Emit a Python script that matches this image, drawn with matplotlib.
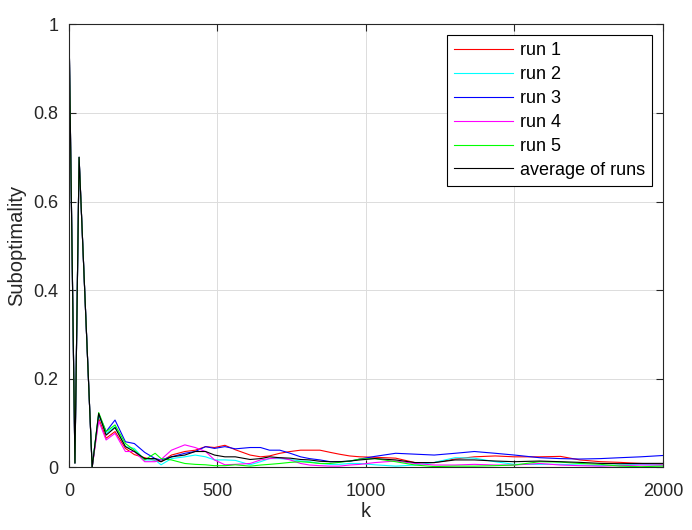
import matplotlib.pyplot as plt
import numpy as np

plt.rcParams['font.family'] = ['Liberation Sans', 'DejaVu Sans']

# iteration index (shared by all runs)
k = [0, 20, 34, 78, 100, 125, 155, 190, 220, 255, 290, 310, 345, 390, 425, 460,
     490, 525, 560, 610, 645, 675, 710, 745, 780, 810, 845, 880, 910, 945, 980,
     1030, 1100, 1165, 1230, 1300, 1365, 1435, 1500, 1585, 1655, 1720, 1790,
     1855, 1925, 2000]

# the first transient is identical for every run
head = [1.0, 0.01, 0.70, 0.0]

run1 = head + [0.111, 0.066, 0.081, 0.043, 0.029, 0.022, 0.016, 0.013, 0.028, 0.036,
               0.039, 0.047, 0.045, 0.050, 0.040, 0.028, 0.024, 0.026, 0.032, 0.036,
               0.039, 0.039, 0.039, 0.034, 0.030, 0.026, 0.024, 0.023, 0.021, 0.011,
               0.011, 0.019, 0.024, 0.026, 0.024, 0.024, 0.025, 0.017, 0.013, 0.0115,
               0.009, 0.007]
run2 = head + [0.118, 0.077, 0.092, 0.047, 0.043, 0.017, 0.017, 0.006, 0.020, 0.024,
               0.028, 0.024, 0.017, 0.017, 0.016, 0.006, 0.013, 0.020, 0.020, 0.018,
               0.0145, 0.013, 0.009, 0.007, 0.007, 0.009, 0.009, 0.006, 0.003, 0.0055,
               0.0115, 0.022, 0.021, 0.013, 0.007, 0.007, 0.007, 0.0055, 0.004, 0.0055,
               0.007, 0.0055]
run3 = head + [0.120, 0.081, 0.107, 0.058, 0.054, 0.034, 0.020, 0.017, 0.024, 0.032,
               0.036, 0.047, 0.043, 0.047, 0.042, 0.045, 0.045, 0.039, 0.039, 0.032,
               0.024, 0.020, 0.017, 0.013, 0.013, 0.014, 0.019, 0.025, 0.032, 0.030,
               0.028, 0.032, 0.036, 0.032, 0.028, 0.022, 0.020, 0.019, 0.020, 0.022,
               0.024, 0.027]
run4 = head + [0.105, 0.062, 0.077, 0.036, 0.036, 0.013, 0.013, 0.018, 0.039, 0.051,
               0.045, 0.036, 0.017, 0.006, 0.007, 0.009, 0.017, 0.020, 0.022, 0.017,
               0.009, 0.0055, 0.004, 0.003, 0.003, 0.0055, 0.007, 0.011, 0.0145, 0.009,
               0.0055, 0.0055, 0.007, 0.0055, 0.0055, 0.009, 0.0055, 0.004, 0.003, 0.004,
               0.0055, 0.0055]
run5 = head + [0.124, 0.081, 0.096, 0.054, 0.039, 0.017, 0.032, 0.020, 0.017, 0.009,
               0.007, 0.006, 0.004, 0.004, 0.006, 0.003, 0.0055, 0.007, 0.009, 0.0115,
               0.013, 0.0115, 0.009, 0.009, 0.0115, 0.0145, 0.019, 0.020, 0.013, 0.0055,
               0.002, 0.003, 0.003, 0.004, 0.0055, 0.013, 0.012, 0.009, 0.007, 0.003,
               0.0017, 0.003]
avg = head + [0.122, 0.073, 0.090, 0.047, 0.036, 0.020, 0.020, 0.013, 0.024, 0.028,
              0.036, 0.036, 0.028, 0.024, 0.024, 0.018, 0.020, 0.024, 0.022, 0.021,
              0.018, 0.017, 0.014, 0.013, 0.013, 0.0145, 0.017, 0.020, 0.017, 0.011,
              0.011, 0.017, 0.017, 0.0145, 0.013, 0.0145, 0.013, 0.0115, 0.0092, 0.0085,
              0.0092, 0.0092]

labels = ['run 1', 'run 2', 'run 3', 'run 4', 'run 5', 'average of runs']
colors = ['#ff0000', '#00ffff', '#0000ff', '#ff00ff', '#00ff00', '#000000']
series = [run1, run2, run3, run4, run5, avg]

fig = plt.figure(figsize=(6.92, 5.30), dpi=100)
ax = fig.add_axes([0.0997, 0.118, 0.8583, 0.836])

for y, c, lab in zip(series, colors, labels):
    ax.plot(k, y, color=c, linewidth=0.8, label=lab)

ax.set_xlim(0, 2000)
ax.set_ylim(0, 1)
ax.set_xticks([0, 500, 1000, 1500, 2000])
ax.set_yticks([0, 0.2, 0.4, 0.6, 0.8, 1])
ax.set_yticklabels(['0', '0.2', '0.4', '0.6', '0.8', '1'])

dark = '#262626'
ax.tick_params(direction='in', top=True, right=True, length=5, width=0.8,
               labelsize=13, colors=dark)
ax.tick_params(axis='x', pad=11.5)
ax.tick_params(axis='y', pad=7.5)
for s in ax.spines.values():
    s.set_color(dark)
    s.set_linewidth(0.8)
ax.grid(True, color='#dcdcdc', linewidth=0.7)
ax.set_axisbelow(True)

ax.set_xlabel('k', fontsize=14.5, color=dark, labelpad=1)
ax.set_ylabel('Suboptimality', fontsize=14.5, color=dark, labelpad=5)

leg = ax.legend(loc='upper right', fontsize=13, frameon=True, fancybox=False,
                handlelength=3.3, handletextpad=0.35, borderaxespad=0.6,
                labelspacing=0.38, borderpad=0.4)
leg.get_frame().set_edgecolor('#000000')
leg.get_frame().set_linewidth(0.8)
leg.get_frame().set_alpha(1)

plt.savefig('out.png', dpi=100)
